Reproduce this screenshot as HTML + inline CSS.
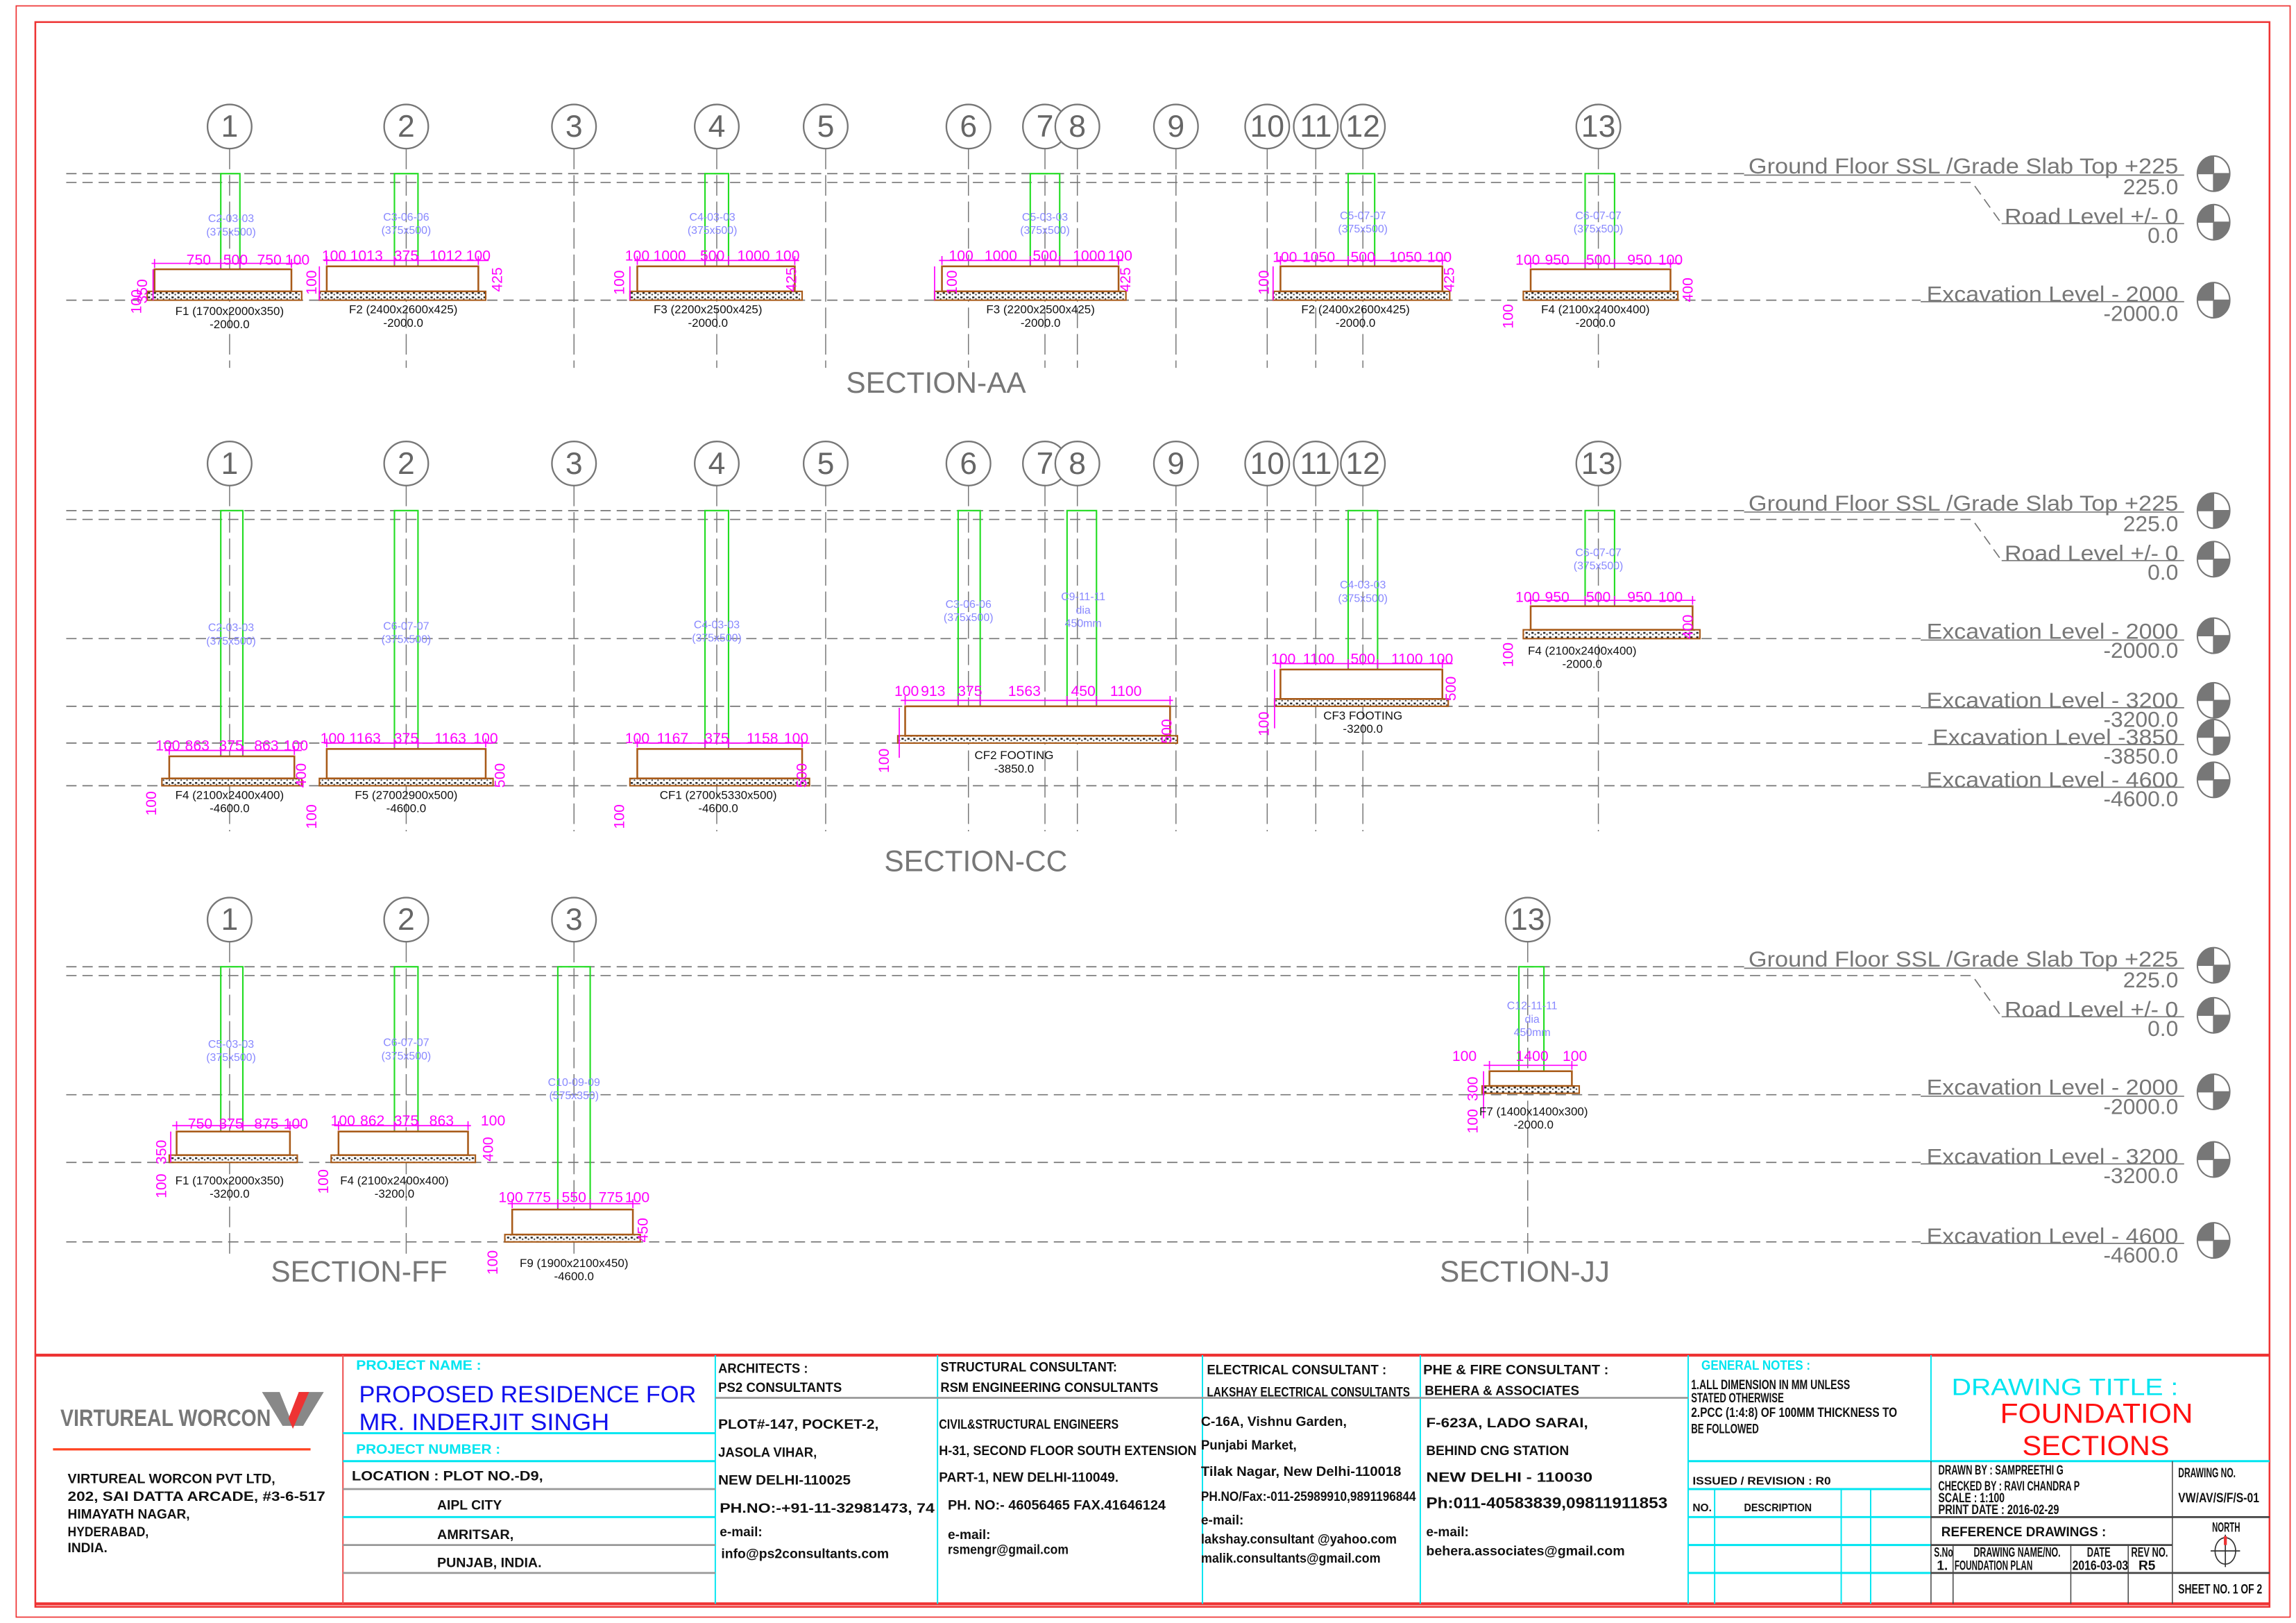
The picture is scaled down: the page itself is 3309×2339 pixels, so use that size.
<!DOCTYPE html>
<html><head><meta charset="utf-8"><style>
html,body{margin:0;padding:0;background:#fff}
svg{display:block}
.g{stroke:#777;stroke-width:.8;fill:none}
.gd{stroke:#777;stroke-width:.8;fill:none;stroke-dasharray:7 4}
.gl{stroke:#777;stroke-width:.7;fill:none;stroke-dasharray:14 4}
.col{stroke:#22dd22;stroke-width:1;fill:none}
.ft{stroke:#a85a18;stroke-width:1.2;fill:#fff}
.pcc{stroke:#a85a18;stroke-width:1;fill:url(#dots)}
.dm{stroke:#ff00ff;stroke-width:.8;fill:none}
.bt{font-family:"Liberation Sans",sans-serif;font-size:21px;fill:#666;text-anchor:middle}
.mt{font-family:"Liberation Sans",sans-serif;font-size:10px;fill:#ff00ff;text-anchor:middle}
.ct{font-family:"Liberation Sans",sans-serif;font-size:7.5px;fill:#8888ff;text-anchor:middle}
.ft2{font-family:"Liberation Sans",sans-serif;font-size:8px;fill:#111;text-anchor:middle}
.lv{font-family:"Liberation Sans",sans-serif;font-size:15px;fill:#777;text-anchor:end}
.st{font-family:"Liberation Sans",sans-serif;font-size:20px;fill:#777;text-anchor:middle}
.tb{font-family:"Liberation Sans",sans-serif;font-size:9px;fill:#111;font-weight:bold}
.cy{fill:#00e5f0}
</style></head><body>
<svg width="3309" height="2339" viewBox="0 0 1560 1103" preserveAspectRatio="none" xmlns="http://www.w3.org/2000/svg">
<defs>
<pattern id="dots" width="4" height="3" patternUnits="userSpaceOnUse"><rect width="4" height="3" fill="#fff"/><rect x="0.5" y="0.5" width="1.5" height="1.2" fill="#222"/><rect x="2.6" y="1.7" width="1" height="1" fill="#444"/></pattern>
<g id="sym"><ellipse cx="0" cy="0" rx="11" ry="12" fill="#fff" stroke="#777" stroke-width="1"/><path d="M0 0V-12A11 12 0 0 0 -11 0Z" fill="#777"/><path d="M0 0V12A11 12 0 0 0 11 0Z" fill="#777"/><path d="M-11 0H11M0 -12V12" stroke="#777" stroke-width=".8"/></g>
</defs>

<rect x="11" y="4" width="1545" height="1095" fill="none" stroke="#e33" stroke-width=".8"/>
<rect x="24" y="15" width="1518" height="1077" fill="none" stroke="#e33" stroke-width="1.2"/>

<!-- ============ SECTION AA ============ -->
<g>
<path class="gl" d="M156 101V250M276 101V250M390 101V250M487 101V250M561 101V250M658 101V250M710 101V250M732 101V250M799 101V250M861 101V250M894 101V250M926 101V250M1086 101V250"/>
<path class="gd" d="M45 118H1185M45 124H1340L1360 152"/>
<path class="gd" d="M45 204H1305"/>
<path class="g" d="M1185 119H1484M1360 152H1484M1305 205H1484"/>
<use href="#sym" x="1504" y="118"/><use href="#sym" x="1504" y="151"/><use href="#sym" x="1504" y="204"/>
<text class="lv" x="1480" y="118" textLength="292" lengthAdjust="spacingAndGlyphs">Ground Floor SSL /Grade Slab Top +225</text><text class="lv" x="1480" y="132">225.0</text>
<text class="lv" x="1480" y="152" textLength="118" lengthAdjust="spacingAndGlyphs">Road Level +/- 0</text><text class="lv" x="1480" y="165">0.0</text>
<text class="lv" x="1480" y="205" textLength="171" lengthAdjust="spacingAndGlyphs">Excavation Level - 2000</text><text class="lv" x="1480" y="218">-2000.0</text>
<g fill="#fff" stroke="#777" stroke-width="1.1">
<circle cx="156" cy="86" r="15"/><circle cx="276" cy="86" r="15"/><circle cx="390" cy="86" r="15"/><circle cx="487" cy="86" r="15"/><circle cx="561" cy="86" r="15"/><circle cx="658" cy="86" r="15"/><circle cx="710" cy="86" r="15"/><circle cx="732" cy="86" r="15"/><circle cx="799" cy="86" r="15"/><circle cx="861" cy="86" r="15"/><circle cx="894" cy="86" r="15"/><circle cx="926" cy="86" r="15"/><circle cx="1086" cy="86" r="15"/></g>
<g class="bt"><text x="156" y="93">1</text><text x="276" y="93">2</text><text x="390" y="93">3</text><text x="487" y="93">4</text><text x="561" y="93">5</text><text x="658" y="93">6</text><text x="710" y="93">7</text><text x="732" y="93">8</text><text x="799" y="93">9</text><text x="861" y="93">10</text><text x="894" y="93">11</text><text x="926" y="93">12</text><text x="1086" y="93">13</text></g>
<rect class="col" x="150" y="118" width="13" height="65"/><rect class="pcc" x="100" y="198" width="105" height="6"/><rect class="ft" x="105" y="183" width="93" height="15"/>
<path class="dm" d="M103 179H205M105 176V182M150 176V182M163 176V182M198 176V182M104 183V204"/>
<g class="mt"><text x="135" y="180">750</text><text x="160" y="180">500</text><text x="183" y="180">750</text><text x="202" y="180">100</text></g>
<text class="mt" transform="translate(100 198) rotate(-90)">350</text><text class="mt" transform="translate(96 205) rotate(-90)">100</text>
<text class="ct" x="157" y="151">C2-03-03</text><text class="ct" x="157" y="160">(375x500)</text>
<text class="ft2" x="156" y="214">F1 (1700x2000x350)</text><text class="ft2" x="156" y="223">-2000.0</text>
<rect class="col" x="268" y="118" width="16" height="63"/><rect class="pcc" x="217" y="198" width="113" height="6"/><rect class="ft" x="222" y="181" width="103" height="17"/>
<path class="dm" d="M220 177H332M222 174V180M268 174V180M284 174V180M325 174V180M217 181V204"/>
<g class="mt"><text x="227" y="177">100</text><text x="249" y="177">1013</text><text x="276" y="177">375</text><text x="303" y="177">1012</text><text x="325" y="177">100</text></g>
<text class="mt" transform="translate(215 192) rotate(-90)">100</text><text class="mt" transform="translate(341 190) rotate(-90)">425</text>
<text class="ct" x="276" y="150">C3-06-06</text><text class="ct" x="276" y="159">(375x500)</text>
<text class="ft2" x="274" y="213">F2 (2400x2600x425)</text><text class="ft2" x="274" y="222">-2000.0</text>
<rect class="col" x="479" y="118" width="16" height="63"/><rect class="pcc" x="428" y="198" width="117" height="6"/><rect class="ft" x="433" y="181" width="107" height="17"/>
<path class="dm" d="M431 177H543M433 174V180M479 174V180M495 174V180M540 174V180M428 181V204"/>
<g class="mt"><text x="433" y="177">100</text><text x="455" y="177">1000</text><text x="484" y="177">500</text><text x="512" y="177">1000</text><text x="535" y="177">100</text></g>
<text class="mt" transform="translate(424 192) rotate(-90)">100</text><text class="mt" transform="translate(541 190) rotate(-90)">425</text>
<text class="ct" x="484" y="150">C4-03-03</text><text class="ct" x="484" y="159">(375x500)</text>
<text class="ft2" x="481" y="213">F3 (2200x2500x425)</text><text class="ft2" x="481" y="222">-2000.0</text>
<rect class="col" x="700" y="118" width="20" height="63"/><rect class="pcc" x="635" y="198" width="130" height="6"/><rect class="ft" x="640" y="181" width="120" height="17"/>
<path class="dm" d="M638 177H763M640 174V180M700 174V180M720 174V180M760 174V180M635 181V204"/>
<g class="mt"><text x="653" y="177">100</text><text x="680" y="177">1000</text><text x="710" y="177">500</text><text x="740" y="177">1000</text><text x="761" y="177">100</text></g>
<text class="mt" transform="translate(650 192) rotate(-90)">100</text><text class="mt" transform="translate(768 190) rotate(-90)">425</text>
<text class="ct" x="710" y="150">C5-03-03</text><text class="ct" x="710" y="159">(375x500)</text>
<text class="ft2" x="707" y="213">F3 (2200x2500x425)</text><text class="ft2" x="707" y="222">-2000.0</text>
<rect class="col" x="916" y="118" width="18" height="63"/><rect class="pcc" x="865" y="198" width="120" height="6"/><rect class="ft" x="870" y="181" width="110" height="17"/>
<path class="dm" d="M868 177H983M870 174V180M916 174V180M934 174V180M980 174V180M865 181V204"/>
<g class="mt"><text x="873" y="178">100</text><text x="896" y="178">1050</text><text x="926" y="178">500</text><text x="955" y="178">1050</text><text x="978" y="178">100</text></g>
<text class="mt" transform="translate(862 192) rotate(-90)">100</text><text class="mt" transform="translate(988 190) rotate(-90)">425</text>
<text class="ct" x="926" y="149">C5-07-07</text><text class="ct" x="926" y="158">(375x500)</text>
<text class="ft2" x="921" y="213">F2 (2400x2600x425)</text><text class="ft2" x="921" y="222">-2000.0</text>
<rect class="col" x="1077" y="118" width="20" height="65"/><rect class="pcc" x="1035" y="198" width="105" height="6"/><rect class="ft" x="1040" y="183" width="95" height="15"/>
<path class="dm" d="M1038 179H1142M1040 176V182M1077 176V182M1097 176V182M1135 176V182"/>
<g class="mt"><text x="1038" y="180">100</text><text x="1058" y="180">950</text><text x="1086" y="180">500</text><text x="1114" y="180">950</text><text x="1135" y="180">100</text></g>
<text class="mt" transform="translate(1028 215) rotate(-90)">100</text><text class="mt" transform="translate(1150 197) rotate(-90)">400</text>
<text class="ct" x="1086" y="149">C6-07-07</text><text class="ct" x="1086" y="158">(375x500)</text>
<text class="ft2" x="1084" y="213">F4 (2100x2400x400)</text><text class="ft2" x="1084" y="222">-2000.0</text>
<text class="st" x="636" y="267">SECTION-AA</text>
</g>

<!-- ============ SECTION CC ============ -->
<g>
<path class="gl" d="M156 330V565M276 330V565M390 330V565M487 330V565M561 330V565M658 330V565M710 330V565M732 330V565M799 330V565M861 330V565M894 330V565M926 330V565M1086 330V565"/>
<path class="gd" d="M45 347H1185M45 353H1340L1360 381"/>
<path class="gd" d="M45 434H1305M45 480H1305M45 505H1310M45 534H1305"/>
<path class="g" d="M1185 348H1484M1360 381H1484M1305 435H1484M1305 481H1484M1310 506H1484M1305 535H1484"/>
<use href="#sym" x="1504" y="347"/><use href="#sym" x="1504" y="380"/><use href="#sym" x="1504" y="432"/><use href="#sym" x="1504" y="476"/><use href="#sym" x="1504" y="501"/><use href="#sym" x="1504" y="530"/>
<text class="lv" x="1480" y="347" textLength="292" lengthAdjust="spacingAndGlyphs">Ground Floor SSL /Grade Slab Top +225</text><text class="lv" x="1480" y="361">225.0</text>
<text class="lv" x="1480" y="381" textLength="118" lengthAdjust="spacingAndGlyphs">Road Level +/- 0</text><text class="lv" x="1480" y="394">0.0</text>
<text class="lv" x="1480" y="434" textLength="171" lengthAdjust="spacingAndGlyphs">Excavation Level - 2000</text><text class="lv" x="1480" y="447">-2000.0</text>
<text class="lv" x="1480" y="481" textLength="171" lengthAdjust="spacingAndGlyphs">Excavation Level - 3200</text><text class="lv" x="1480" y="494">-3200.0</text>
<text class="lv" x="1480" y="506" textLength="167" lengthAdjust="spacingAndGlyphs">Excavation Level -3850</text><text class="lv" x="1480" y="519">-3850.0</text>
<text class="lv" x="1480" y="535" textLength="171" lengthAdjust="spacingAndGlyphs">Excavation Level - 4600</text><text class="lv" x="1480" y="548">-4600.0</text>
<g fill="#fff" stroke="#777" stroke-width="1.1">
<circle cx="156" cy="315" r="15"/><circle cx="276" cy="315" r="15"/><circle cx="390" cy="315" r="15"/><circle cx="487" cy="315" r="15"/><circle cx="561" cy="315" r="15"/><circle cx="658" cy="315" r="15"/><circle cx="710" cy="315" r="15"/><circle cx="732" cy="315" r="15"/><circle cx="799" cy="315" r="15"/><circle cx="861" cy="315" r="15"/><circle cx="894" cy="315" r="15"/><circle cx="926" cy="315" r="15"/><circle cx="1086" cy="315" r="15"/></g>
<g class="bt"><text x="156" y="322">1</text><text x="276" y="322">2</text><text x="390" y="322">3</text><text x="487" y="322">4</text><text x="561" y="322">5</text><text x="658" y="322">6</text><text x="710" y="322">7</text><text x="732" y="322">8</text><text x="799" y="322">9</text><text x="861" y="322">10</text><text x="894" y="322">11</text><text x="926" y="322">12</text><text x="1086" y="322">13</text></g>
<rect class="col" x="150" y="347" width="15" height="167"/><rect class="pcc" x="110" y="529" width="95" height="5"/><rect class="ft" x="115" y="514" width="85" height="15"/>
<path class="dm" d="M112 510H205M115 507V513M150 507V513M165 507V513M200 507V513"/>
<g class="mt"><text x="114" y="510">100</text><text x="134" y="510">863</text><text x="157" y="510">375</text><text x="181" y="510">863</text><text x="201" y="510">100</text></g>
<text class="mt" transform="translate(106 546) rotate(-90)">100</text><text class="mt" transform="translate(208 527) rotate(-90)">400</text>
<text class="ct" x="157" y="429">C2-03-03</text><text class="ct" x="157" y="438">(375x500)</text>
<text class="ft2" x="156" y="543">F4 (2100x2400x400)</text><text class="ft2" x="156" y="552">-4600.0</text>
<rect class="col" x="268" y="347" width="16" height="162"/><rect class="pcc" x="217" y="529" width="118" height="5"/><rect class="ft" x="222" y="509" width="108" height="20"/>
<path class="dm" d="M220 505H335M222 502V508M268 502V508M284 502V508M330 502V508"/>
<g class="mt"><text x="226" y="505">100</text><text x="248" y="505">1163</text><text x="276" y="505">375</text><text x="306" y="505">1163</text><text x="330" y="505">100</text></g>
<text class="mt" transform="translate(215 555) rotate(-90)">100</text><text class="mt" transform="translate(343 527) rotate(-90)">500</text>
<text class="ct" x="276" y="428">C6-07-07</text><text class="ct" x="276" y="437">(375x500)</text>
<text class="ft2" x="276" y="543">F5 (27002900x500)</text><text class="ft2" x="276" y="552">-4600.0</text>
<rect class="col" x="479" y="347" width="16" height="162"/><rect class="pcc" x="428" y="529" width="122" height="5"/><rect class="ft" x="433" y="509" width="112" height="20"/>
<path class="dm" d="M431 505H550M433 502V508M479 502V508M495 502V508M545 502V508"/>
<g class="mt"><text x="433" y="505">100</text><text x="457" y="505">1167</text><text x="487" y="505">375</text><text x="518" y="505">1158</text><text x="541" y="505">100</text></g>
<text class="mt" transform="translate(424 555) rotate(-90)">100</text><text class="mt" transform="translate(548 527) rotate(-90)">500</text>
<text class="ct" x="487" y="427">C4-03-03</text><text class="ct" x="487" y="436">(375x500)</text>
<text class="ft2" x="488" y="543">CF1 (2700x5330x500)</text><text class="ft2" x="488" y="552">-4600.0</text>
<rect class="col" x="651" y="347" width="15" height="133"/><rect class="col" x="725" y="347" width="20" height="133"/>
<rect class="pcc" x="610" y="500" width="190" height="5"/><rect class="ft" x="615" y="480" width="180" height="20"/>
<path class="dm" d="M612 476H797M615 473V479M651 473V479M666 473V479M725 473V479M745 473V479M795 473V479M611 481V515"/>
<g class="mt"><text x="616" y="473">100</text><text x="634" y="473">913</text><text x="659" y="473">375</text><text x="696" y="473">1563</text><text x="736" y="473">450</text><text x="765" y="473">1100</text></g>
<text class="mt" transform="translate(604 517) rotate(-90)">100</text><text class="mt" transform="translate(796 497) rotate(-90)">500</text>
<text class="ct" x="658" y="413">C3-06-06</text><text class="ct" x="658" y="422">(375x500)</text>
<text class="ct" x="736" y="408">C9-11-11</text><text class="ct" x="736" y="417">dia</text><text class="ct" x="736" y="426">450mm</text>
<text class="ft2" x="689" y="516">CF2 FOOTING</text><text class="ft2" x="689" y="525">-3850.0</text>
<rect class="col" x="916" y="347" width="20" height="108"/><rect class="pcc" x="866" y="475" width="118" height="5"/><rect class="ft" x="870" y="455" width="110" height="20"/>
<path class="dm" d="M867 451H987M870 448V454M916 448V454M936 448V454M980 448V454M866 455V495"/>
<g class="mt"><text x="872" y="451">100</text><text x="896" y="451">1100</text><text x="926" y="451">500</text><text x="956" y="451">1100</text><text x="979" y="451">100</text></g>
<text class="mt" transform="translate(862 492) rotate(-90)">100</text><text class="mt" transform="translate(989 468) rotate(-90)">500</text>
<text class="ct" x="926" y="400">C4-03-03</text><text class="ct" x="926" y="409">(375x500)</text>
<text class="ft2" x="926" y="489">CF3 FOOTING</text><text class="ft2" x="926" y="498">-3200.0</text>
<rect class="col" x="1077" y="347" width="20" height="65"/><rect class="pcc" x="1035" y="428" width="120" height="6"/><rect class="ft" x="1040" y="412" width="110" height="16"/>
<path class="dm" d="M1038 408H1152M1040 405V411M1077 405V411M1097 405V411M1150 405V411"/>
<g class="mt"><text x="1038" y="409">100</text><text x="1058" y="409">950</text><text x="1086" y="409">500</text><text x="1114" y="409">950</text><text x="1135" y="409">100</text></g>
<text class="mt" transform="translate(1028 445) rotate(-90)">100</text><text class="mt" transform="translate(1150 426) rotate(-90)">400</text>
<text class="ct" x="1086" y="378">C6-07-07</text><text class="ct" x="1086" y="387">(375x500)</text>
<text class="ft2" x="1075" y="445">F4 (2100x2400x400)</text><text class="ft2" x="1075" y="454">-2000.0</text>
<text class="st" x="663" y="592">SECTION-CC</text>
</g>

<!-- ============ SECTION FF / JJ ============ -->
<g>
<path class="gl" d="M156 640V855M276 640V855M390 640V855M1038 640V855"/>
<path class="gd" d="M45 657H1185M45 663H1340L1360 691"/>
<path class="gd" d="M45 744H1305M45 790H1305M45 844H1305"/>
<path class="g" d="M1185 658H1484M1360 691H1484M1305 745H1484M1305 791H1484M1305 845H1484"/>
<use href="#sym" x="1504" y="656"/><use href="#sym" x="1504" y="690"/><use href="#sym" x="1504" y="742"/><use href="#sym" x="1504" y="788"/><use href="#sym" x="1504" y="843"/>
<text class="lv" x="1480" y="657" textLength="292" lengthAdjust="spacingAndGlyphs">Ground Floor SSL /Grade Slab Top +225</text><text class="lv" x="1480" y="671">225.0</text>
<text class="lv" x="1480" y="691" textLength="118" lengthAdjust="spacingAndGlyphs">Road Level +/- 0</text><text class="lv" x="1480" y="704">0.0</text>
<text class="lv" x="1480" y="744" textLength="171" lengthAdjust="spacingAndGlyphs">Excavation Level - 2000</text><text class="lv" x="1480" y="757">-2000.0</text>
<text class="lv" x="1480" y="791" textLength="171" lengthAdjust="spacingAndGlyphs">Excavation Level - 3200</text><text class="lv" x="1480" y="804">-3200.0</text>
<text class="lv" x="1480" y="845" textLength="171" lengthAdjust="spacingAndGlyphs">Excavation Level - 4600</text><text class="lv" x="1480" y="858">-4600.0</text>
<g fill="#fff" stroke="#777" stroke-width="1.1"><circle cx="156" cy="625" r="15"/><circle cx="276" cy="625" r="15"/><circle cx="390" cy="625" r="15"/><circle cx="1038" cy="625" r="15"/></g>
<g class="bt"><text x="156" y="632">1</text><text x="276" y="632">2</text><text x="390" y="632">3</text><text x="1038" y="632">13</text></g>
<rect class="col" x="150" y="657" width="15" height="112"/><rect class="pcc" x="115" y="785" width="87" height="5"/><rect class="ft" x="120" y="769" width="77" height="16"/>
<path class="dm" d="M117 765H205M120 762V768M150 762V768M165 762V768M197 762V768M116 769V790"/>
<g class="mt"><text x="136" y="767">750</text><text x="157" y="767">375</text><text x="181" y="767">875</text><text x="201" y="767">100</text></g>
<text class="mt" transform="translate(113 783) rotate(-90)">350</text><text class="mt" transform="translate(113 806) rotate(-90)">100</text>
<text class="ct" x="157" y="712">C5-03-03</text><text class="ct" x="157" y="721">(375x500)</text>
<text class="ft2" x="156" y="805">F1 (1700x2000x350)</text><text class="ft2" x="156" y="814">-3200.0</text>
<rect class="col" x="268" y="657" width="16" height="112"/><rect class="pcc" x="225" y="785" width="98" height="5"/><rect class="ft" x="230" y="769" width="88" height="16"/>
<path class="dm" d="M227 765H320M230 762V768M268 762V768M284 762V768M318 762V768"/>
<g class="mt"><text x="233" y="765">100</text><text x="253" y="765">862</text><text x="276" y="765">375</text><text x="300" y="765">863</text><text x="335" y="765">100</text></g>
<text class="mt" transform="translate(223 803) rotate(-90)">100</text><text class="mt" transform="translate(335 781) rotate(-90)">400</text>
<text class="ct" x="276" y="711">C6-07-07</text><text class="ct" x="276" y="720">(375x500)</text>
<text class="ft2" x="268" y="805">F4 (2100x2400x400)</text><text class="ft2" x="268" y="814">-3200.0</text>
<rect class="col" x="379" y="657" width="22" height="165"/><rect class="pcc" x="343" y="839" width="92" height="5"/><rect class="ft" x="348" y="822" width="82" height="17"/>
<path class="dm" d="M345 818H435M348 815V821M379 815V821M401 815V821M430 815V821"/>
<g class="mt"><text x="347" y="817">100</text><text x="366" y="817">775</text><text x="390" y="817">550</text><text x="415" y="817">775</text><text x="433" y="817">100</text></g>
<text class="mt" transform="translate(338 858) rotate(-90)">100</text><text class="mt" transform="translate(440 836) rotate(-90)">450</text>
<text class="ct" x="390" y="738">C10-09-09</text><text class="ct" x="390" y="747">(575x350)</text>
<text class="ft2" x="390" y="861">F9 (1900x2100x450)</text><text class="ft2" x="390" y="870">-4600.0</text>
<rect class="col" x="1032" y="657" width="17" height="71"/><rect class="pcc" x="1007" y="738" width="66" height="5"/><rect class="ft" x="1012" y="728" width="56" height="10"/>
<path class="dm" d="M1008 724H1072M1012 721V727M1068 721V727M1008 728V760"/>
<g class="mt"><text x="995" y="721">100</text><text x="1041" y="721">1400</text><text x="1070" y="721">100</text></g>
<text class="mt" transform="translate(1004 740) rotate(-90)">300</text><text class="mt" transform="translate(1004 762) rotate(-90)">100</text>
<text class="ct" x="1041" y="686">C12-11-11</text><text class="ct" x="1041" y="695">dia</text><text class="ct" x="1041" y="704">450mm</text>
<text class="ft2" x="1042" y="758">F7 (1400x1400x300)</text><text class="ft2" x="1042" y="767">-2000.0</text>
<text class="st" x="244" y="871">SECTION-FF</text>
<text class="st" x="1036" y="871">SECTION-JJ</text>
</g>

<!-- ============ TITLE BLOCK ============ -->
<g>
<path d="M24 921H1542M24 1090H1542" stroke="#e33" stroke-width="2"/>
<path d="M233 921V1090" stroke="#e55" stroke-width="1"/>
<path d="M486 921V1090M637 921V1090M817 921V1090M965 921V1090M1147 921V1090M1312 921V993" stroke="#00e5f0" stroke-width=".9"/>
<path d="M233 974H486M233 993H486M233 1031H486M1147 993H1542M1147 1012H1312M1147 1031H1312M1147 1050H1312M1147 1069H1312" stroke="#00e5f0" stroke-width="1.4"/>
<path d="M233 1012H486M233 1050H486M233 1069H486M486 950H1147" stroke="#999" stroke-width="1.3"/>
<path d="M1165 1012V1090M1251 1012V1090M1271 1012V1090" stroke="#00e5f0" stroke-width=".9"/>
<path d="M1312 1031H1542M1312 1050H1476M1312 1069H1542" stroke="#444" stroke-width="1.3"/>
<path d="M1312 993V1090M1476 993V1090M1327 1050V1090M1407 1050V1090M1446 1050V1090" stroke="#444" stroke-width=".7"/>
<!-- logo -->
<text x="41" y="969" font-family="Liberation Sans,sans-serif" font-weight="bold" font-size="16" fill="#777" textLength="143" lengthAdjust="spacingAndGlyphs">VIRTUREAL WORCON</text>
<path d="M178 946H190L198 966L203 946H220L206 969H192Z" fill="#888"/><path d="M203 946H210L199 971L196 964Z" fill="#e33"/>
<path d="M36 985H211" stroke="#f42" stroke-width="1.5"/>
<g class="tb"><text x="46" y="1008" textLength="141" lengthAdjust="spacingAndGlyphs">VIRTUREAL WORCON PVT LTD,</text><text x="46" y="1020" textLength="175" lengthAdjust="spacingAndGlyphs">202, SAI DATTA ARCADE, #3-6-517</text><text x="46" y="1032" textLength="83" lengthAdjust="spacingAndGlyphs">HIMAYATH NAGAR,</text><text x="46" y="1044" textLength="55" lengthAdjust="spacingAndGlyphs">HYDERABAD,</text><text x="46" y="1055" textLength="27" lengthAdjust="spacingAndGlyphs">INDIA.</text></g>
<text x="242" y="931" class="tb cy" font-weight="normal" textLength="85" lengthAdjust="spacingAndGlyphs">PROJECT NAME :</text>
<text x="244" y="953" font-family="Liberation Sans,sans-serif" font-size="16" fill="#1010ee" textLength="229" lengthAdjust="spacingAndGlyphs">PROPOSED RESIDENCE FOR</text>
<text x="244" y="972" font-family="Liberation Sans,sans-serif" font-size="16" fill="#1010ee" textLength="170" lengthAdjust="spacingAndGlyphs">MR. INDERJIT SINGH</text>
<text x="242" y="988" class="tb cy" font-weight="normal" textLength="98" lengthAdjust="spacingAndGlyphs">PROJECT NUMBER :</text>
<g class="tb"><text x="239" y="1006" textLength="130" lengthAdjust="spacingAndGlyphs">LOCATION :  PLOT NO.-D9,</text><text x="297" y="1026" textLength="44" lengthAdjust="spacingAndGlyphs">AIPL CITY</text><text x="297" y="1046" textLength="52" lengthAdjust="spacingAndGlyphs">AMRITSAR,</text><text x="297" y="1065" textLength="71" lengthAdjust="spacingAndGlyphs">PUNJAB, INDIA.</text></g>
<g class="tb"><text x="488" y="933" textLength="61" lengthAdjust="spacingAndGlyphs">ARCHITECTS :</text><text x="488" y="946" textLength="84" lengthAdjust="spacingAndGlyphs">PS2 CONSULTANTS</text><text x="488" y="971" textLength="109" lengthAdjust="spacingAndGlyphs">PLOT#-147, POCKET-2,</text><text x="488" y="990" textLength="67" lengthAdjust="spacingAndGlyphs">JASOLA VIHAR,</text><text x="488" y="1009" textLength="90" lengthAdjust="spacingAndGlyphs">NEW DELHI-110025</text><text x="489" y="1028" textLength="146" lengthAdjust="spacingAndGlyphs">PH.NO:-+91-11-32981473, 74</text><text x="489" y="1044">e-mail:</text><text x="490" y="1059" textLength="114" lengthAdjust="spacingAndGlyphs">info@ps2consultants.com</text></g>
<g class="tb"><text x="639" y="932" textLength="120" lengthAdjust="spacingAndGlyphs">STRUCTURAL CONSULTANT:</text><text x="639" y="946" textLength="148" lengthAdjust="spacingAndGlyphs">RSM ENGINEERING CONSULTANTS</text><text x="638" y="971" textLength="122" lengthAdjust="spacingAndGlyphs">CIVIL&amp;STRUCTURAL ENGINEERS</text><text x="638" y="989" textLength="175" lengthAdjust="spacingAndGlyphs">H-31, SECOND FLOOR SOUTH EXTENSION</text><text x="638" y="1007" textLength="122" lengthAdjust="spacingAndGlyphs">PART-1, NEW DELHI-110049.</text><text x="644" y="1026" textLength="148" lengthAdjust="spacingAndGlyphs">PH. NO:- 46056465 FAX.41646124</text><text x="644" y="1046">e-mail:</text><text x="644" y="1056" textLength="82" lengthAdjust="spacingAndGlyphs">rsmengr@gmail.com</text></g>
<g class="tb"><text x="820" y="934" textLength="122" lengthAdjust="spacingAndGlyphs">ELECTRICAL CONSULTANT :</text><text x="820" y="949" textLength="138" lengthAdjust="spacingAndGlyphs">LAKSHAY ELECTRICAL CONSULTANTS</text><text x="816" y="969" textLength="99" lengthAdjust="spacingAndGlyphs">C-16A, Vishnu Garden,</text><text x="816" y="985" textLength="65" lengthAdjust="spacingAndGlyphs">Punjabi Market,</text><text x="816" y="1003" textLength="136" lengthAdjust="spacingAndGlyphs">Tilak Nagar, New Delhi-110018</text><text x="816" y="1020" textLength="146" lengthAdjust="spacingAndGlyphs">PH.NO/Fax:-011-25989910,9891196844</text><text x="816" y="1036">e-mail:</text><text x="816" y="1049" textLength="133" lengthAdjust="spacingAndGlyphs">lakshay.consultant @yahoo.com</text><text x="816" y="1062" textLength="122" lengthAdjust="spacingAndGlyphs">malik.consultants@gmail.com</text></g>
<g class="tb"><text x="967" y="934" textLength="126" lengthAdjust="spacingAndGlyphs">PHE &amp; FIRE CONSULTANT :</text><text x="968" y="948" textLength="105" lengthAdjust="spacingAndGlyphs">BEHERA &amp; ASSOCIATES</text><text x="969" y="970" textLength="110" lengthAdjust="spacingAndGlyphs">F-623A, LADO SARAI,</text><text x="969" y="989" textLength="97" lengthAdjust="spacingAndGlyphs">BEHIND CNG STATION</text><text x="969" y="1007" textLength="113" lengthAdjust="spacingAndGlyphs">NEW DELHI - 110030</text><text x="969" y="1025" font-size="10.5" textLength="164" lengthAdjust="spacingAndGlyphs">Ph:011-40583839,09811911853</text><text x="969" y="1044">e-mail:</text><text x="969" y="1057" textLength="135" lengthAdjust="spacingAndGlyphs">behera.associates@gmail.com</text></g>
<text x="1156" y="931" class="tb cy" font-weight="normal" font-size="8" textLength="74" lengthAdjust="spacingAndGlyphs">GENERAL NOTES :</text>
<g class="tb" font-size="7"><text x="1149" y="944" textLength="108" lengthAdjust="spacingAndGlyphs">1.ALL DIMENSION IN MM UNLESS</text><text x="1149" y="953" textLength="63" lengthAdjust="spacingAndGlyphs">STATED OTHERWISE</text><text x="1149" y="963" textLength="140" lengthAdjust="spacingAndGlyphs">2.PCC (1:4:8)  OF 100MM THICKNESS TO</text><text x="1149" y="974" textLength="46" lengthAdjust="spacingAndGlyphs">BE FOLLOWED</text><text x="1150" y="1009" font-size="7.5" textLength="94" lengthAdjust="spacingAndGlyphs">ISSUED / REVISION : R0</text><text x="1150" y="1027" font-size="7.5" textLength="13" lengthAdjust="spacingAndGlyphs">NO.</text><text x="1185" y="1027" font-size="7.5" textLength="46" lengthAdjust="spacingAndGlyphs">DESCRIPTION</text></g>
<text x="1326" y="948" font-family="Liberation Sans,sans-serif" font-size="16" fill="#00e5f0" textLength="154" lengthAdjust="spacingAndGlyphs">DRAWING TITLE :</text>
<text x="1359" y="967" font-family="Liberation Sans,sans-serif" font-size="19" fill="#ff1010" textLength="131" lengthAdjust="spacingAndGlyphs">FOUNDATION</text>
<text x="1374" y="989" font-family="Liberation Sans,sans-serif" font-size="19" fill="#ff1010" textLength="100" lengthAdjust="spacingAndGlyphs">SECTIONS</text>
<g class="tb" font-size="6"><text x="1317" y="1002" textLength="85" lengthAdjust="spacingAndGlyphs">DRAWN BY :  SAMPREETHI G</text><text x="1317" y="1013" textLength="96" lengthAdjust="spacingAndGlyphs">CHECKED BY : RAVI CHANDRA P</text><text x="1317" y="1021" textLength="45" lengthAdjust="spacingAndGlyphs">SCALE : 1:100</text><text x="1317" y="1029" textLength="82" lengthAdjust="spacingAndGlyphs">PRINT DATE : 2016-02-29</text><text x="1480" y="1004" textLength="39" lengthAdjust="spacingAndGlyphs">DRAWING NO.</text><text x="1480" y="1021" textLength="55" lengthAdjust="spacingAndGlyphs">VW/AV/S/F/S-01</text><text x="1503" y="1041" textLength="19" lengthAdjust="spacingAndGlyphs">NORTH</text><text x="1314" y="1058" textLength="13" lengthAdjust="spacingAndGlyphs">S.No</text><text x="1341" y="1058" textLength="59" lengthAdjust="spacingAndGlyphs">DRAWING NAME/NO.</text><text x="1418" y="1058" textLength="16" lengthAdjust="spacingAndGlyphs">DATE</text><text x="1448" y="1058" textLength="25" lengthAdjust="spacingAndGlyphs">REV NO.</text><text x="1316" y="1067">1.</text><text x="1328" y="1067" textLength="53" lengthAdjust="spacingAndGlyphs">FOUNDATION PLAN</text><text x="1408" y="1067" textLength="38" lengthAdjust="spacingAndGlyphs">2016-03-03</text><text x="1453" y="1067">R5</text><text x="1480" y="1083" textLength="57" lengthAdjust="spacingAndGlyphs">SHEET NO. 1 OF 2</text></g>
<text x="1319" y="1044" class="tb" font-size="9" textLength="112" lengthAdjust="spacingAndGlyphs">REFERENCE DRAWINGS :</text>
<ellipse cx="1512" cy="1054" rx="7" ry="9" fill="none" stroke="#333" stroke-width=".8"/><path d="M1502 1054H1522M1512 1043V1065" stroke="#333" stroke-width=".8"/><rect x="1511" y="1044" width="2" height="6" fill="#e33"/>
</g>
</svg>
</body></html>
